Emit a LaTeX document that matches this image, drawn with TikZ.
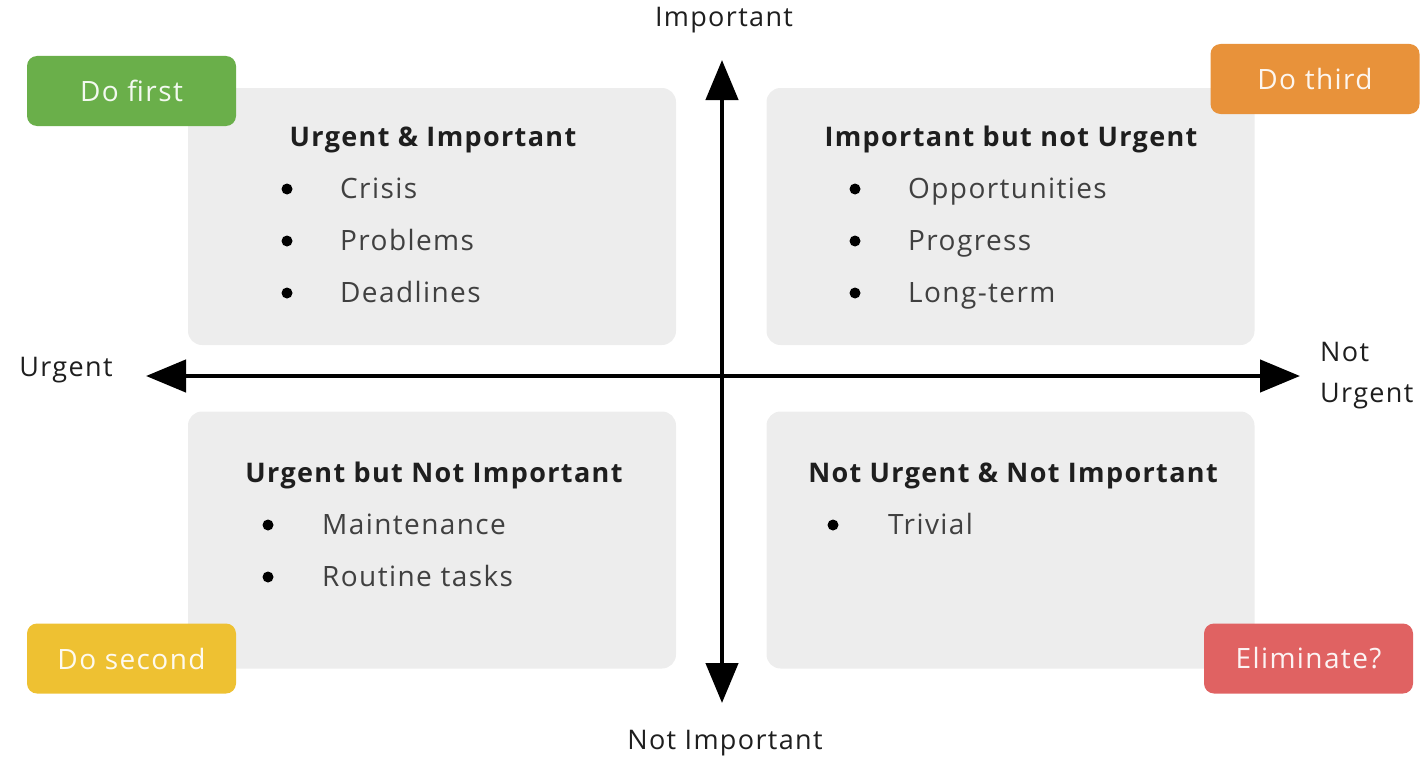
\documentclass[tikz,border=0pt]{standalone}
\usepackage{fontspec}
\setmainfont{Open Sans}[LetterSpace=5]
\usetikzlibrary{arrows.meta}

\definecolor{boxgray}{HTML}{EDEDED}
\definecolor{inkdark}{HTML}{1E1E1E}
\definecolor{badgegreen}{HTML}{6AAF4A}
\definecolor{badgeorange}{HTML}{E8923A}
\definecolor{badgeyellow}{HTML}{EEC132}
\definecolor{badgered}{HTML}{E06262}

\tikzset{
  quadrant/.style={fill=boxgray, rounded corners=14pt, inner sep=0pt,
    minimum width=488pt, minimum height=257pt},
  badge/.style={rounded corners=10pt, inner sep=0pt, minimum width=209pt,
    minimum height=70pt, font=\fontsize{28}{30}\selectfont, text=white!92!#1, fill=#1},
  heading/.style={font=\fontsize{27}{30}\selectfont\bfseries, text=inkdark, anchor=base},
  item/.style={font=\fontsize{28}{30}\selectfont, text=inkdark!85!white, anchor=base west, inner sep=0pt},
  dot/.style={circle, fill=black, inner sep=0pt, minimum size=11pt},
  axislabel/.style={font=\fontsize{27}{30}\selectfont, text=inkdark},
  axis/.style={line width=4.5pt, {Triangle[length=40pt,width=32pt]}-{Triangle[length=40pt,width=32pt]}}
}

\begin{document}
\begin{tikzpicture}[x=1pt, y=-1pt]
  \useasboundingbox (0,0) rectangle (1427,760);

  % four quadrant panels
  \node[quadrant] (q1) at (432,216.5) {};
  \node[quadrant] (q2) at (1010.5,216.5) {};
  \node[quadrant] (q3) at (432,540) {};
  \node[quadrant] (q4) at (1010.5,540) {};

  % axes
  \coordinate (top) at (722,60);
  \coordinate (bottom) at (722,703);
  \coordinate (left) at (146,376);
  \coordinate (right) at (1300,376);
  \draw[axis] (bottom) -- (top);
  \draw[axis] (left) -- (right);

  % axis labels
  \node[axislabel] (limp) at (724,20) {Important};
  \node[axislabel] (lnimp) at (725,743) {Not Important};
  \node[axislabel] (lurg) at (66,370) {Urgent};
  \node[axislabel, align=left, anchor=west, inner sep=0pt] (lnurg) at (1320,376) {Not\\[11pt]Urgent};

  % urgent and important
  \node[heading] (h1) at (433,146) {Urgent \& Important};
  \node[dot] (b11) at (287,189) {};
  \node[item] (t11) at (340,198) {Crisis};
  \node[dot] (b12) at (287,241) {};
  \node[item] (t12) at (340,250) {Problems};
  \node[dot] (b13) at (287,293) {};
  \node[item] (t13) at (340,302) {Deadlines};

  % important but not urgent
  \node[heading] (h2) at (1011,146) {Important but not Urgent};
  \node[dot] (b21) at (855,189) {};
  \node[item] (t21) at (908,198) {Opportunities};
  \node[dot] (b22) at (855,241) {};
  \node[item] (t22) at (908,250) {Progress};
  \node[dot] (b23) at (855,293) {};
  \node[item] (t23) at (908,302) {Long-term};

  % urgent but not important
  \node[heading] (h3) at (434,482) {Urgent but Not Important};
  \node[dot] (b31) at (268,525) {};
  \node[item] (t31) at (322,534) {Maintenance};
  \node[dot] (b32) at (268,577) {};
  \node[item] (t32) at (322,586) {Routine tasks};

  % neither
  \node[heading] (h4) at (1013,482) {Not Urgent \& Not Important};
  \node[dot] (b41) at (833,525) {};
  \node[item] (t41) at (888,534) {Trivial};

  % priority badges
  \node[badge=badgegreen] (first) at (131.5,91) {Do first};
  \node[badge=badgeorange] (third) at (1315,79) {Do third};
  \node[badge=badgeyellow] (second) at (131.5,658.5) {Do second};
  \node[badge=badgered] (elim) at (1308.5,658.5) {Eliminate?};
\end{tikzpicture}
\end{document}
